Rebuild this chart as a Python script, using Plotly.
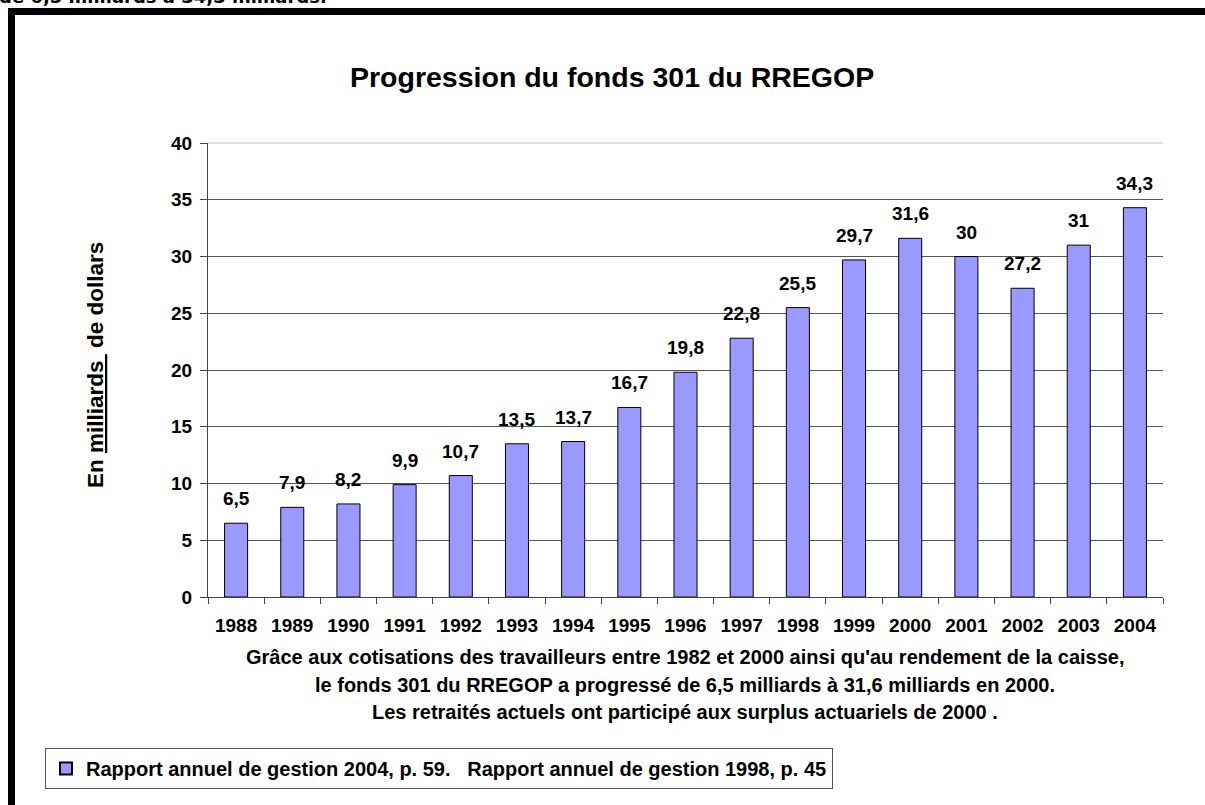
import plotly.graph_objects as go

years = ["1988", "1989", "1990", "1991", "1992", "1993", "1994", "1995", "1996",
         "1997", "1998", "1999", "2000", "2001", "2002", "2003", "2004"]
values = [6.5, 7.9, 8.2, 9.9, 10.7, 13.5, 13.7, 16.7, 19.8,
          22.8, 25.5, 29.7, 31.6, 30, 27.2, 31, 34.3]
labels = [("%g" % v).replace(".", ",") for v in values]

series_name = "Rapport annuel de gestion 2004, p. 59.   Rapport annuel de gestion 1998, p. 45"
title = "Progression du fonds 301 du RREGOP"
ylabel = "En <u>milliards </u> de dollars"
notes = [
    "Grâce aux cotisations des travailleurs entre 1982 et 2000 ainsi qu'au rendement de la caisse,",
    "le fonds 301 du RREGOP a progressé de 6,5 milliards à 31,6 milliards en 2000.",
    "Les retraités actuels ont participé aux surplus actuariels de 2000 .",
]
top_text = "de 6,5 milliards à 34,3 milliards."

W, H = 1205, 805
L, R, T, B = 208, 1163, 143, 597
FONT = "Liberation Sans, Arial, sans-serif"


def px(x):
    return (x - L) / (R - L)


def py(y):
    return (B - y) / (B - T)


fig = go.Figure()
fig.add_trace(go.Bar(
    x=years, y=values, name=series_name,
    marker=dict(color="#9999FF", line=dict(color="#000000", width=1)),
    width=0.41,
    showlegend=True,
))

fig.update_layout(
    width=W, height=H,
    margin=dict(l=L, r=W - R, t=T, b=H - B, autoexpand=False),
    paper_bgcolor="#ffffff", plot_bgcolor="#ffffff",
    font=dict(family=FONT, size=19, color="#000000"),
    showlegend=True,
    legend=dict(
        x=px(45), y=py(748), xanchor="left", yanchor="top",
        bordercolor="#555555", borderwidth=1, bgcolor="#ffffff",
        font=dict(family=FONT, size=20, color="#000000", weight="bold"),
        itemsizing="constant",
    ),
)

fig.update_xaxes(
    type="category", categoryarray=years, categoryorder="array",
    range=[-0.5, len(years) - 0.5], autorange=False,
    tickson="boundaries", ticks="outside", ticklen=6,
    tickcolor="#444444", showline=True, linecolor="#444444", linewidth=1,
    showgrid=False, tickfont=dict(family=FONT, size=19, weight="bold"),
    ticklabelstandoff=11,
)
fig.update_yaxes(
    range=[0, 40], dtick=5, ticks="outside", ticklen=7, tickcolor="#444444",
    showline=True, linecolor="#444444", linewidth=1,
    showgrid=True, gridcolor="#555555", gridwidth=1, zeroline=False,
    tickfont=dict(family=FONT, size=19, weight="bold"),
    ticklabelstandoff=4,
)

# lighter top line
fig.add_shape(type="line", xref="paper", yref="paper", x0=0, x1=1, y0=1, y1=1,
              line=dict(color="#c0c0c0", width=1))

# black frame (left and top)
fig.add_shape(type="rect", xref="paper", yref="paper",
              x0=px(8), x1=px(15), y0=py(H + 5), y1=py(8),
              fillcolor="#000000", line=dict(width=0), layer="above")
fig.add_shape(type="rect", xref="paper", yref="paper",
              x0=px(8), x1=px(W + 5), y0=py(15), y1=py(8),
              fillcolor="#000000", line=dict(width=0), layer="above")

annotations = [
    dict(text="<b>%s</b>" % title, x=px(612), y=py(77), xref="paper", yref="paper",
         showarrow=False, xanchor="center", yanchor="middle",
         font=dict(family=FONT, size=28.5, color="#000000")),
    dict(text="<b>%s</b>" % ylabel, x=px(95), y=py(365), xref="paper", yref="paper",
         showarrow=False, xanchor="center", yanchor="middle", textangle=-90,
         font=dict(family=FONT, size=22.5, color="#000000")),
    dict(text="<b>%s</b>" % top_text, x=px(-3), y=py(9), xref="paper", yref="paper",
         showarrow=False, xanchor="left", yanchor="bottom",
         font=dict(family="DejaVu Sans, sans-serif", size=18, color="#000000")),
]
for line, yy in zip(notes, [657, 685, 712]):
    annotations.append(dict(text="<b>%s</b>" % line, x=px(685), y=py(yy),
                            xref="paper", yref="paper", showarrow=False,
                            xanchor="center", yanchor="middle",
                            font=dict(family=FONT, size=20, color="#000000")))
for i, (v, lab) in enumerate(zip(values, labels)):
    annotations.append(dict(text="<b>%s</b>" % lab, x=i, y=v, xref="x", yref="y",
                            showarrow=False, xanchor="center", yanchor="bottom",
                            yshift=12,
                            font=dict(family=FONT, size=19, color="#000000")))
fig.update_layout(annotations=annotations)

fig.write_html("out.html", config={"displayModeBar": False},
               post_script="document.body.style.margin='0';")
